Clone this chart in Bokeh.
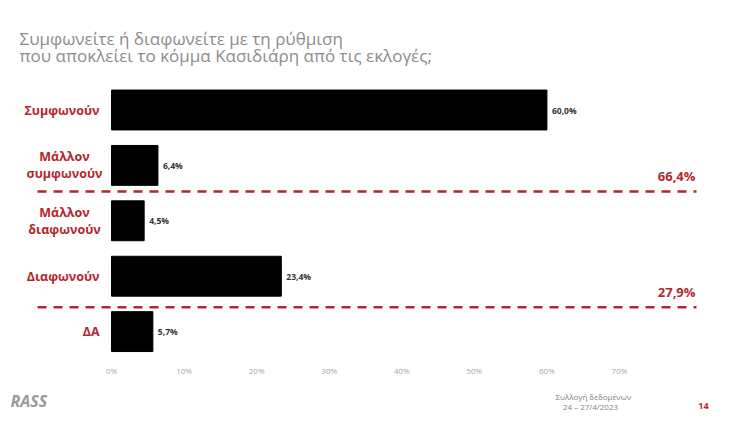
from bokeh.plotting import figure
from bokeh.models import Range1d, ColumnDataSource
from bokeh.core.properties import value
from bokeh.embed import file_html
from bokeh.resources import INLINE

# ---- data ----
categories = ["Συμφωνούν", "Μάλλον\nσυμφωνούν", "Μάλλον\nδιαφωνούν", "Διαφωνούν", "ΔΑ"]
values = [60.0, 6.4, 4.5, 23.4, 5.7]
groups = [[0, 1], [2, 3]]          # agree group, disagree group (totals)
ticks = [0, 10, 20, 30, 40, 50, 60, 70]
title_lines = ["Συμφωνείτε ή διαφωνείτε με τη ρύθμιση",
               "που αποκλείει το κόμμα Κασιδιάρη από τις εκλογές;"]
footer_lines = ["Συλλογή δεδομένων", "24 – 27/4/2023"]
page_number = "14"
logo_text = "RASS"

# ---- layout helpers (page pixel -> data units) ----
W, H = 726, 418
OFF = 0
X0, PPU = 111.0, 508.0 / 70.0
Y0, STEP = 109.5, 55.4
def dx(px): return (px - X0) / PPU
def dy(py): return (py - Y0) / STEP

RED = "#b3262c"
FONT = "Open Sans"
fmt = lambda v: f"{v:.1f}".replace(".", ",") + "%"

p = figure(width=W, height=H, output_backend="svg", toolbar_location=None,
           x_range=Range1d(dx(OFF), dx(OFF + W)), y_range=Range1d(dy(OFF + H), dy(OFF)),
           min_border=0, x_axis_location=None, y_axis_location=None,
           outline_line_color=None)
p.grid.visible = False
p.background_fill_color = "white"
p.border_fill_color = "white"

idx = list(range(len(categories)))
src = ColumnDataSource(dict(y=idx, v=values, lab=[fmt(v) for v in values]))
p.hbar(y="y", left=0, right="v", height=0.72, source=src, color="black")
p.text(x="v", y="y", text="lab", source=src, x_offset=5,
       text_font=value(FONT), text_font_style="bold", text_font_size="8.5px",
       text_color="#333333", text_baseline="middle", text_align="left")

# category labels
for i, c in enumerate(categories):
    two = "\n" in c
    p.text(x=[dx(64) if two else dx(99)], y=[i], text=[c],
           text_font=value(FONT), text_font_style="bold", text_font_size="12.5px",
           text_color=RED, text_baseline="middle",
           text_align="center" if two else "right", text_line_height=1.0)

# group separators and totals
for g in groups:
    yb = g[-1] + 0.5 + (0.06 if g is groups[-1] else -0.03)
    total = sum(values[k] for k in g)
    p.segment(x0=[dx(37)], x1=[dx(696)], y0=[yb], y1=[yb],
              line_color=RED, line_width=2.5, line_dash="9 7")
    p.text(x=[dx(695)], y=[yb - 0.27], text=[fmt(total)],
           text_font=value(FONT), text_font_style="bold", text_font_size="13px",
           text_color=RED, text_baseline="middle", text_align="right")

# x tick labels
p.text(x=ticks, y=[dy(370)] * len(ticks), text=[f"{t}%" for t in ticks],
       text_font=value(FONT), text_font_size="8px", text_color="#a6a6a6",
       text_baseline="middle", text_align="center")

# title
for k, t in enumerate(title_lines):
    p.text(x=[dx(19)], y=[dy(38 + 17 * k)], text=[t],
           text_font=value(FONT), text_font_size="17px", text_color="#8c8c8c",
           text_baseline="alphabetic", text_align="left")

# footer
p.text(x=[dx(10)], y=[dy(400)], text=[logo_text],
       text_font=value(FONT), text_font_style="bold italic", text_font_size="16px",
       text_color="#9a9a9a", text_baseline="middle", text_align="left")
p.text(x=[dx(555)], y=[dy(396)], text=[footer_lines[0]],
       text_font=value(FONT), text_font_size="8px", text_color="#7f7f7f",
       text_baseline="middle", text_align="left")
p.text(x=[dx(590)], y=[dy(405.5)], text=[footer_lines[1]],
       text_font=value(FONT), text_font_size="8px", text_color="#7f7f7f",
       text_baseline="middle", text_align="center")
p.text(x=[dx(703)], y=[dy(405)], text=[page_number],
       text_font=value(FONT), text_font_style="bold", text_font_size="9px",
       text_color=RED, text_baseline="middle", text_align="center")

open("out.html", "w").write(file_html(p, INLINE))
